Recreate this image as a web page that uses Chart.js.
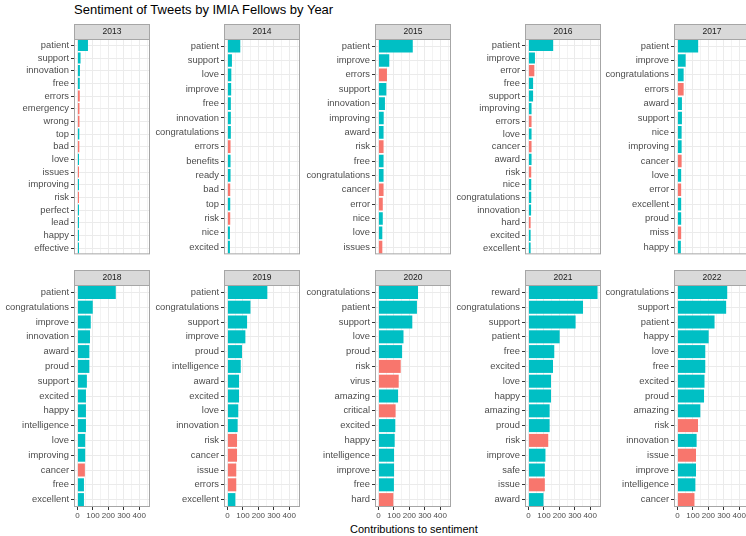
<!DOCTYPE html>
<html>
<head>
<meta charset="utf-8">
<script src="https://cdn.jsdelivr.net/npm/chart.js@4"></script>
<style>
  body { margin: 0; width: 746px; height: 536px; overflow: hidden; background: #fff; font-family: "Liberation Sans", Arial, sans-serif; position: relative; }
  #title { position: absolute; left: 74px; top: 2px; font-size: 13px; color: #000; white-space: nowrap; }
  #xtitle { position: absolute; left: 350px; top: 523px; width: 120px; text-align: center; font-size: 11px; color: #000; white-space: nowrap; }
  canvas { position: absolute; }
</style>
</head>
<body>
<div id="title">Sentiment of Tweets by IMIA Fellows by Year</div>
<div id="xtitle">Contributions to sentiment</div>
<script>
"use strict";
const years = ["2013", "2014", "2015", "2016", "2017", "2018", "2019", "2020", "2021", "2022"];

const words2013 = ["patient", "support", "innovation", "free", "errors", "emergency", "wrong", "top", "bad", "love", "issues", "improving", "risk", "perfect", "lead", "happy", "effective"];
const values2013 = [68, 20, 16, 15, 15, 13, 13, 12, 12, 10, 10, 10, 10, 10, 10, 10, 10];
const neg2013 = ["errors", "emergency", "wrong", "bad", "issues", "risk"];

const words2014 = ["patient", "support", "love", "improve", "free", "innovation", "congratulations", "errors", "benefits", "ready", "bad", "top", "risk", "nice", "excited"];
const values2014 = [83, 29, 25, 24, 22, 22, 22, 20, 20, 20, 18, 18, 18, 16, 16];
const neg2014 = ["errors", "bad", "risk"];

const words2015 = ["patient", "improve", "errors", "support", "innovation", "improving", "award", "risk", "free", "congratulations", "cancer", "error", "nice", "love", "issues"];
const values2015 = [222, 70, 55, 51, 42, 34, 33, 33, 33, 33, 33, 28, 28, 25, 25];
const neg2015 = ["errors", "risk", "cancer", "error", "issues"];

const words2016 = ["patient", "improve", "error", "free", "support", "improving", "errors", "love", "cancer", "award", "risk", "nice", "congratulations", "innovation", "hard", "excited", "excellent"];
const values2016 = [160, 42, 38, 30, 30, 20, 20, 20, 20, 20, 18, 18, 18, 17, 14, 14, 14];
const neg2016 = ["error", "errors", "cancer", "risk", "hard"];

const words2017 = ["patient", "improve", "congratulations", "errors", "award", "support", "nice", "improving", "cancer", "love", "error", "excellent", "proud", "miss", "happy"];
const values2017 = [134, 53, 40, 40, 29, 29, 27, 27, 27, 24, 24, 24, 24, 24, 22];
const neg2017 = ["errors", "cancer", "error", "miss"];

const words2018 = ["patient", "congratulations", "improve", "innovation", "award", "proud", "support", "excited", "happy", "intelligence", "love", "improving", "cancer", "free", "excellent"];
const values2018 = [248, 99, 86, 81, 77, 77, 61, 55, 55, 55, 50, 50, 48, 42, 42];
const neg2018 = ["cancer"];

const words2019 = ["patient", "congratulations", "support", "improve", "proud", "intelligence", "award", "excited", "love", "innovation", "risk", "cancer", "issue", "errors", "excellent"];
const values2019 = [258, 149, 127, 116, 94, 86, 75, 75, 70, 66, 62, 62, 57, 57, 51];
const neg2019 = ["risk", "cancer", "issue", "errors"];

const words2020 = ["congratulations", "patient", "support", "love", "proud", "risk", "virus", "amazing", "critical", "excited", "happy", "intelligence", "improve", "free", "hard"];
const values2020 = [256, 249, 219, 162, 153, 144, 131, 127, 111, 109, 105, 101, 101, 100, 96];
const neg2020 = ["risk", "virus", "critical", "hard"];

const words2021 = ["reward", "congratulations", "support", "patient", "free", "excited", "love", "happy", "amazing", "proud", "risk", "improve", "safe", "issue", "award"];
const values2021 = [447, 353, 305, 202, 167, 159, 146, 146, 137, 137, 128, 110, 106, 106, 97];
const neg2021 = ["risk", "issue"];

const words2022 = ["congratulations", "support", "patient", "happy", "love", "free", "excited", "proud", "amazing", "risk", "innovation", "issue", "improve", "intelligence", "cancer"];
const values2022 = [322, 315, 240, 202, 180, 180, 175, 172, 148, 133, 124, 120, 120, 116, 110];
const neg2022 = ["risk", "issue", "cancer"];

const xTicks = [0, 100, 200, 300, 400];

const panels = [
  [words2013, values2013, neg2013],
  [words2014, values2014, neg2014],
  [words2015, values2015, neg2015],
  [words2016, values2016, neg2016],
  [words2017, values2017, neg2017],
  [words2018, values2018, neg2018],
  [words2019, values2019, neg2019],
  [words2020, values2020, neg2020],
  [words2021, values2021, neg2021],
  [words2022, values2022, neg2022],
];

const POS = "#00BFC4";
const NEG = "#F8766D";
const panelLefts = [74, 224, 375, 525, 674];
const labelW = 74;
const panelW = 76;
const stripH = 15;
const xMax = 447 * 1.05;
const xMin = -447 * 0.05;

// strip + panel border, drawn like ggplot facets
const facetPlugin = {
  id: "facet",
  beforeDraw(chart, args, opts) {
    const a = chart.chartArea;
    const c = chart.ctx;
    c.save();
    c.fillStyle = "#fff";
    c.fillRect(a.left, a.top, a.right - a.left, a.bottom - a.top);
    c.restore();
  },
  afterDraw(chart, args, opts) {
    const a = chart.chartArea;
    const c = chart.ctx;
    c.save();
    c.strokeStyle = "#a6a6a6";
    c.lineWidth = 1;
    c.strokeRect(a.left + 0.5, a.top + 0.5, a.right - a.left - 1, a.bottom - a.top - 1);
    c.fillStyle = "#d9d9d9";
    c.fillRect(a.left, a.top - stripH, a.right - a.left, stripH);
    c.strokeRect(a.left + 0.5, a.top - stripH + 0.5, a.right - a.left - 1, stripH);
    c.fillStyle = "#1a1a1a";
    c.font = "8.5px 'Liberation Sans', Arial, sans-serif";
    c.textAlign = "center";
    c.textBaseline = "middle";
    c.fillText(opts.label, (a.left + a.right) / 2, a.top - stripH / 2 + 0.5);
    c.restore();
  }
};

panels.forEach((p, i) => {
  const words = p[0];
  const vals = p[1];
  const neg = p[2];
  const row = Math.floor(i / 5);
  const col = i % 5;
  const bottomRow = row === 1;

  const canvasTop = row === 0 ? 24 : 270;
  const plotH = row === 0 ? 223 : 222;
  const axisH = bottomRow ? 16 : 0;
  const w = labelW + panelW;
  const h = stripH + plotH + axisH;

  const cv = document.createElement("canvas");
  cv.width = w;
  cv.height = h;
  cv.style.left = (panelLefts[col] - labelW) + "px";
  cv.style.top = canvasTop + "px";
  cv.style.width = w + "px";
  cv.style.height = h + "px";
  document.body.appendChild(cv);

  new Chart(cv, {
    type: "bar",
    data: {
      labels: words,
      datasets: [{
        data: vals,
        backgroundColor: words.map((wd) => (neg.includes(wd) ? NEG : POS)),
        borderWidth: 0,
        barPercentage: 0.88,
        categoryPercentage: 1,
      }],
    },
    options: {
      indexAxis: "y",
      responsive: false,
      animation: false,
      devicePixelRatio: 1,
      layout: { padding: { top: stripH, right: 0, left: 0, bottom: 0 } },
      plugins: {
        legend: { display: false },
        tooltip: { enabled: false },
        facet: { label: years[i] },
      },
      scales: {
        x: {
          type: "linear",
          min: xMin,
          max: xMax,
          afterBuildTicks(scale) {
            const t = [];
            for (let v = 0; v <= 450; v += 50) t.push({ value: v });
            scale.ticks = t;
          },
          afterFit(scale) { scale.height = axisH; },
          grid: {
            color: "#ebebeb",
            lineWidth: (ctx) => (ctx.tick && ctx.tick.value % 100 === 0 ? 1 : 0.6),
            drawTicks: bottomRow,
            tickLength: 3,
            tickColor: (ctx) => (ctx.tick && ctx.tick.value % 100 === 0 ? "#333" : "rgba(0,0,0,0)"),
          },
          border: { display: false },
          ticks: {
            display: bottomRow,
            autoSkip: false,
            maxRotation: 0,
            padding: 1,
            color: "#4d4d4d",
            font: { size: 8, family: "'Liberation Sans', Arial, sans-serif" },
            callback: (v) => (xTicks.includes(v) ? String(v) : ""),
          },
        },
        y: {
          afterFit(scale) { scale.width = labelW; },
          grid: {
            color: "#ebebeb",
            offset: false,
            drawTicks: true,
            tickLength: 3,
            tickColor: "#333",
          },
          border: { display: false },
          ticks: {
            autoSkip: false,
            padding: 2,
            color: "#4d4d4d",
            font: { size: 9.4, family: "'Liberation Sans', Arial, sans-serif" },
          },
        },
      },
    },
    plugins: [facetPlugin],
  });
});
</script>
</body>
</html>
